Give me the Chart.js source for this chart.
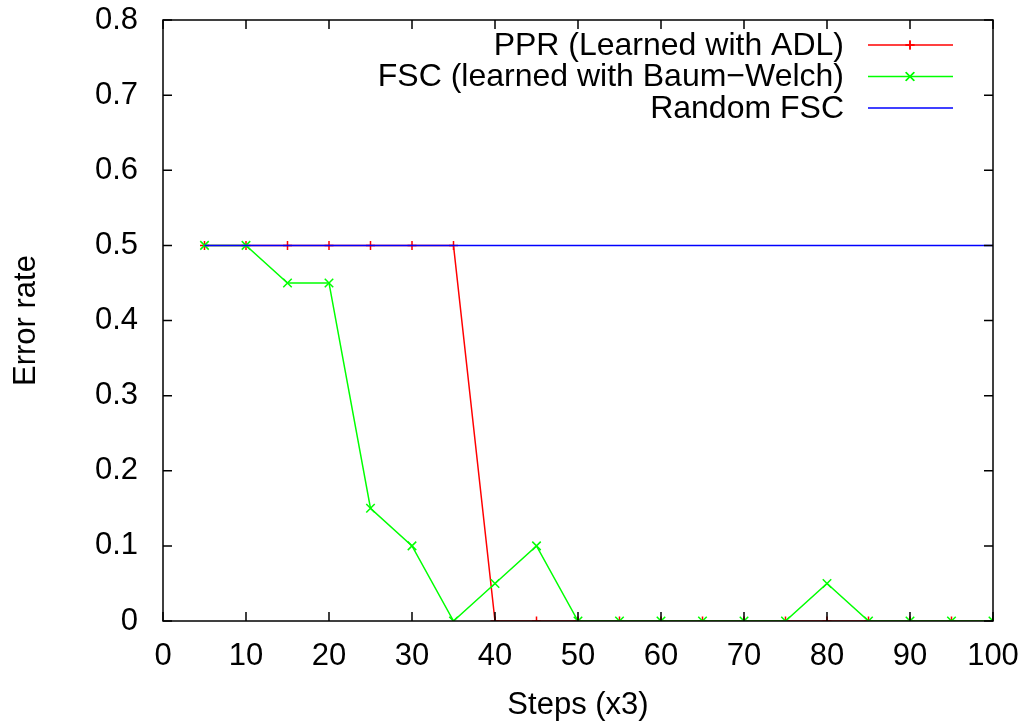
<!DOCTYPE html>
<html>
<head>
<meta charset="utf-8">
<script src="https://cdn.jsdelivr.net/npm/chart.js@4/dist/chart.umd.min.js"></script>
<style>
  html, body { margin: 0; padding: 0; background: #fff; }
  #wrap { width: 1030px; height: 724px; }
</style>
</head>
<body>
<div id="wrap"><canvas id="myChart" width="1030" height="724"></canvas></div>
<script>
let steps = [5, 10, 15, 20, 25, 30, 35, 40, 45, 50, 55, 60, 65, 70, 75, 80, 85, 90, 95, 100]
let pprError = [0.5, 0.5, 0.5, 0.5, 0.5, 0.5, 0.5, 0, 0, 0, 0, 0, 0, 0, 0, 0, 0, 0, 0, 0]
let fscError = [0.5, 0.5, 0.45, 0.45, 0.15, 0.1, 0, 0.05, 0.1, 0, 0, 0, 0, 0, 0, 0.05, 0, 0, 0, 0]
let randomError = [0.5, 0.5, 0.5, 0.5, 0.5, 0.5, 0.5, 0.5, 0.5, 0.5, 0.5, 0.5, 0.5, 0.5, 0.5, 0.5, 0.5, 0.5, 0.5, 0.5]
let seriesNames = ['PPR (Learned with ADL)', 'FSC (learned with Baum\u2212Welch)', 'Random FSC']
let xTicks = [0, 10, 20, 30, 40, 50, 60, 70, 80, 90, 100]
let yTicks = [0, 0.1, 0.2, 0.3, 0.4, 0.5, 0.6, 0.7, 0.8]

const FONT = 'Liberation Sans, Arial, Helvetica, sans-serif'
const FS = 31

function pts(ys) {
    return steps.map((x, i) => ({ x: x, y: ys[i] }))
}

// gnuplot-like frame, inward ticks and key
const gnuplotFrame = {
    id: 'gnuplotFrame',
    afterDatasetsDraw(chart) {
        const ctx = chart.ctx
        const a = chart.chartArea
        const xs = chart.scales.x, ys = chart.scales.y
        ctx.save()
        ctx.strokeStyle = '#000'
        ctx.lineWidth = 1.5
        ctx.beginPath()
        xTicks.forEach(v => {
            const px = xs.getPixelForValue(v)
            ctx.moveTo(px, a.bottom); ctx.lineTo(px, a.bottom - 9)
            ctx.moveTo(px, a.top); ctx.lineTo(px, a.top + 9)
        })
        yTicks.forEach(v => {
            const py = ys.getPixelForValue(v)
            ctx.moveTo(a.left, py); ctx.lineTo(a.left + 9, py)
            ctx.moveTo(a.right, py); ctx.lineTo(a.right - 9, py)
        })
        ctx.stroke()
        ctx.strokeRect(a.left, a.top, a.right - a.left, a.bottom - a.top)

        // key
        ctx.font = '32px ' + FONT
        ctx.textAlign = 'right'
        ctx.textBaseline = 'middle'
        chart.data.datasets.forEach((ds, i) => {
            const y = 45 + i * 31.5
            ctx.fillStyle = '#000'
            ctx.fillText(ds.label, 844, y + 1)
            ctx.strokeStyle = ds.borderColor
            ctx.lineWidth = 1.5
            ctx.beginPath()
            ctx.moveTo(868, y); ctx.lineTo(953, y)
            ctx.stroke()
            if (ds.pointRadius > 0) {
                Chart.helpers.drawPoint(ctx, {
                    pointStyle: ds.pointStyle, radius: ds.pointRadius, borderWidth: 1.5
                }, 910, y)
                ctx.stroke()
            }
        })
        ctx.restore()
    }
}

let chart = {
    type: 'line',
    data: {
        datasets: [{
            label: seriesNames[0],
            data: pts(pprError),
            borderColor: '#ff0000',
            backgroundColor: '#ff0000',
            borderWidth: 1.5,
            pointStyle: 'cross',
            pointRadius: 4.5,
            pointBorderWidth: 1.5,
            order: 3
        }, {
            label: seriesNames[1],
            data: pts(fscError),
            borderColor: '#00ff00',
            backgroundColor: '#00ff00',
            borderWidth: 1.5,
            pointStyle: 'crossRot',
            pointRadius: 6,
            pointBorderWidth: 1.5,
            order: 2
        }, {
            label: seriesNames[2],
            data: pts(randomError),
            borderColor: '#0000ff',
            backgroundColor: '#0000ff',
            borderWidth: 1.5,
            pointRadius: 0,
            order: 1
        }]
    },
    options: {
        responsive: false,
        animation: false,
        layout: { padding: { left: 0, right: 37, top: 20, bottom: 0 } },
        plugins: {
            legend: { display: false },
            tooltip: { enabled: false }
        },
        elements: { line: { tension: 0 }, point: { hoverRadius: 0 } },
        scales: {
            x: {
                type: 'linear',
                min: 0,
                max: 100,
                afterBuildTicks: s => { s.ticks = xTicks.map(v => ({ value: v })) },
                afterFit: s => { s.height = 103; s.paddingLeft = 0; s.paddingRight = 0 },
                grid: { display: false, drawTicks: false },
                border: { display: false },
                ticks: { color: '#000', padding: 17, maxRotation: 0, font: { family: FONT, size: FS } },
                title: {
                    display: true, text: 'Steps (x3)', color: '#000',
                    font: { family: FONT, size: FS }, padding: { top: 0, bottom: 0 }
                }
            },
            y: {
                min: 0,
                max: 0.8,
                afterBuildTicks: s => { s.ticks = yTicks.map(v => ({ value: v })) },
                afterFit: s => { s.width = 163; s.paddingTop = 0; s.paddingBottom = 0 },
                grid: { display: false, drawTicks: false },
                border: { display: false },
                ticks: {
                    color: '#000', padding: 25, font: { family: FONT, size: FS },
                    callback: v => v === 0 ? '0' : v.toFixed(1)
                },
                title: {
                    display: true, text: 'Error rate', color: '#000',
                    font: { family: FONT, size: FS }, padding: { top: 8, bottom: 0 }
                }
            }
        }
    },
    plugins: [gnuplotFrame]
}

const ctx = document.getElementById('myChart').getContext('2d')
const myChart = new Chart(ctx, chart)
</script>
</body>
</html>
